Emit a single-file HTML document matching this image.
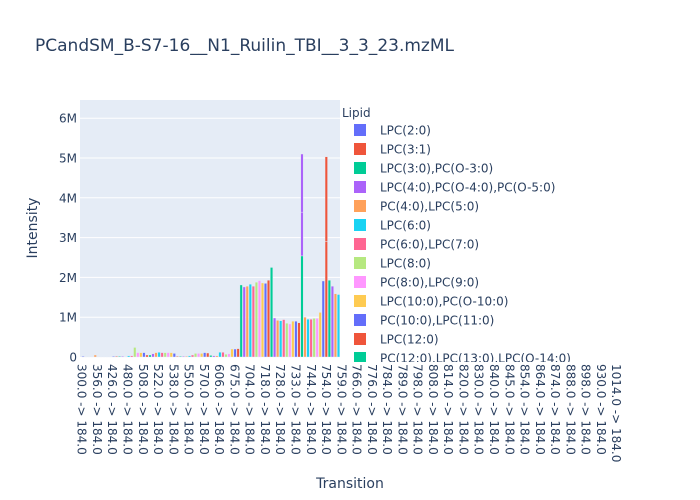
<!DOCTYPE html>
<html><head><meta charset="utf-8"><style>
html,body{margin:0;padding:0;background:#fff;}
svg{display:block;font-family:"DejaVu Sans","Liberation Sans",sans-serif;}
</style></head><body>
<svg id="chart" width="700" height="500" viewBox="0 0 700 500">
<rect x="0" y="0" width="700" height="500" fill="#fff"/>
<text x="35" y="51" font-size="17" fill="#2a3f5f" textLength="419" lengthAdjust="spacingAndGlyphs">PCandSM_B-S7-16__N1_Ruilin_TBI__3_3_23.mzML</text>
<rect x="80" y="100" width="260" height="257" fill="#e5ecf6"/>
<g id="grid"></g>
<g id="bars"></g>
<g id="yticks"></g>
<g id="xticks"></g>
<text transform="translate(37,228) rotate(-90)" text-anchor="middle" font-size="14" fill="#2a3f5f">Intensity</text>
<text x="350" y="488" text-anchor="middle" font-size="14" fill="#2a3f5f">Transition</text>
<defs><clipPath id="legclip"><rect x="340" y="100" width="360" height="262"/></clipPath></defs>
<g id="legend" clip-path="url(#legclip)">
<rect x="340" y="100" width="360" height="262" fill="#fff"/>
<text x="342" y="117" font-size="12" fill="#2a3f5f">Lipid</text>
</g>
</svg>
<script>
const palette = ["#636efa","#EF553B","#00cc96","#ab63fa","#FFA15A","#19d3f3","#FF6692","#B6E880","#FF97FF","#FECB52"];
const categories = ["300.0 -> 184.0","356.0 -> 184.0","426.0 -> 184.0","480.0 -> 184.0","508.0 -> 184.0","522.0 -> 184.0","538.0 -> 184.0","550.0 -> 184.0","570.0 -> 184.0","606.0 -> 184.0","675.0 -> 184.0","704.0 -> 184.0","718.0 -> 184.0","728.0 -> 184.0","733.0 -> 184.0","744.0 -> 184.0","754.0 -> 184.0","759.0 -> 184.0","766.0 -> 184.0","776.0 -> 184.0","784.0 -> 184.0","789.0 -> 184.0","798.0 -> 184.0","808.0 -> 184.0","814.0 -> 184.0","820.0 -> 184.0","830.0 -> 184.0","840.0 -> 184.0","845.0 -> 184.0","854.0 -> 184.0","864.0 -> 184.0","874.0 -> 184.0","888.0 -> 184.0","898.0 -> 184.0","930.0 -> 184.0","1014.0 -> 184.0"];
const lipids = ["LPC(2:0)","LPC(3:1)","LPC(3:0),PC(O-3:0)","LPC(4:0),PC(O-4:0),PC(O-5:0)","PC(4:0),LPC(5:0)","LPC(6:0)","PC(6:0),LPC(7:0)","LPC(8:0)","PC(8:0),LPC(9:0)","LPC(10:0),PC(O-10:0)","PC(10:0),LPC(11:0)","LPC(12:0)","PC(12:0),LPC(13:0),LPC(O-14:0)"];
const barValues = [0.02,0.01,0.01,0.01,0.05,0.01,0.01,0.01,0.01,0.01,0.02,0.02,0.02,0.02,0.01,0.03,0.03,
0.24,0.11,0.11,0.11,0.05,0.05,0.08,0.11,0.12,0.11,0.11,0.11,0.11,0.09,0.02,0.02,0.02,0.02,0.03,0.05,0.09,0.09,0.09,0.11,0.1,0.04,0.03,0.03,0.12,0.12,0.07,0.08,0.2,0.2,0.21,
1.81,1.76,1.78,1.83,1.78,1.88,1.92,1.86,1.85,1.93,2.25,
0.98,0.92,0.91,0.94,0.85,0.83,0.9,0.9,0.86,
2.54,
1.0,0.95,0.95,0.97,0.97,1.12,1.91,2.9,1.93,1.78,1.59,1.57];
const stackSlots = [72,72,80];
const stackColorIdx = [3,3,1];
const stackValues = [1.1,1.46,2.13];
const yTickValues = [0,1,2,3,4,5,6];
const yTickLabels = ["0","1M","2M","3M","4M","5M","6M"];

const NS = "http://www.w3.org/2000/svg";
const Y0 = 357, PXM = 39.8;
const yScale = v => Y0 - v * PXM;
const slotX = i => 83.1 + i * 3.04;
const catX = j => 82 + j * 15.27;
const colorIdx = i => (i <= 72 ? i % 10 : (i + 1) % 10);
function mk(tag, attrs, parent){const e=document.createElementNS(NS,tag);for(const k in attrs)e.setAttribute(k,attrs[k]);parent.appendChild(e);return e;}

const grid = document.getElementById('grid');
yTickValues.forEach((v,k)=>{
  if(v>0){
    const l = mk('line',{x1:80,x2:340,y1:yScale(v),y2:yScale(v),stroke:'#fff','stroke-width':1},grid);
    
    
  }
  const t = mk('text',{x:77,y:yScale(v)+4.5,'text-anchor':'end','font-size':12,fill:'#2a3f5f'},document.getElementById('yticks'));
  t.textContent = yTickLabels[k];
  
  
});

const bars = document.getElementById('bars');
const tops = [];
barValues.forEach((v,i)=>{
  const b = mk('rect',{x:slotX(i)-1.25,y:yScale(v),width:2.5,height:v*PXM,fill:palette[colorIdx(i)],stroke:'#e5ecf6','stroke-width':0.4},bars);
  
  
  tops[i]=v;
});
stackSlots.forEach((s,k)=>{
  const base = tops[s], v = stackValues[k];
  const b = mk('rect',{x:slotX(s)-1.25,y:yScale(base+v),width:2.5,height:v*PXM,fill:palette[stackColorIdx[k]],stroke:'#e5ecf6','stroke-width':0.4},bars);
  
  
  tops[s]=base+v;
});

const xt = document.getElementById('xticks');
categories.forEach((c,j)=>{
  const x = catX(j);
  const t = mk('text',{transform:`translate(${x-4.3},364) rotate(90)`,'font-size':12,fill:'#2a3f5f'},xt);
  t.textContent = c;
  
  
});

const leg = document.getElementById('legend');
lipids.forEach((name,k)=>{
  const y = 130 + k*19;
  const g = mk('g',{},leg);
  
  
  mk('rect',{x:354,y:y-6,width:12,height:12,fill:palette[k%10]},g);
  const t = mk('text',{x:380,y:y+4.5,'font-size':12,fill:'#2a3f5f'},g);
  t.textContent = name;
});
</script>
</body></html>
